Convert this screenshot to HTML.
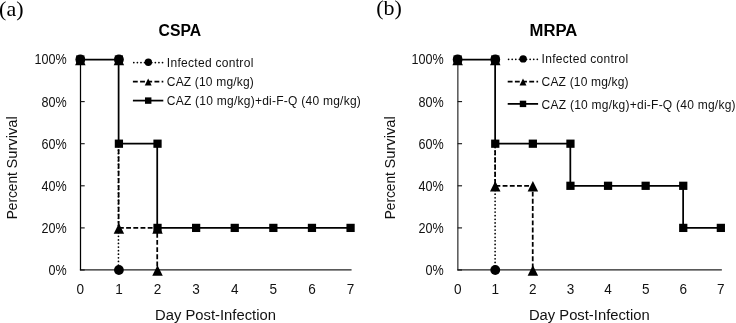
<!DOCTYPE html>
<html><head><meta charset="utf-8"><title>chart</title>
<style>
html,body{margin:0;padding:0;background:#fff;overflow:hidden;}
svg{display:block;font-family:"Liberation Sans",sans-serif;will-change:transform;filter:grayscale(1);}
</style></head><body>
<svg width="736" height="323" viewBox="0 0 736 323">
<rect width="736" height="323" fill="#fff"/>
<text x="-0.9" y="15.8" font-family="Liberation Serif" font-size="22" fill="#000">(a)</text>
<text x="179.8" y="36" text-anchor="middle" font-weight="bold" font-size="17.2" textLength="42.6" lengthAdjust="spacingAndGlyphs" fill="#000">CSPA</text>
<path d="M79.89999999999999 269.9 H351.57" fill="none" stroke="#222" stroke-width="1.15"/>
<path d="M80.5 59.5 V270.3" fill="none" stroke="#000" stroke-width="1.25"/>
<path d="M80.3 270.0 h4.4" stroke="#111" stroke-width="1.1"/>
<text transform="translate(66.6 274.90) scale(0.875 1)" text-anchor="end" font-size="14.4" fill="#111">0%</text>
<path d="M80.3 227.9 h4.4" stroke="#111" stroke-width="1.1"/>
<text transform="translate(66.6 232.80) scale(0.875 1)" text-anchor="end" font-size="14.4" fill="#111">20%</text>
<path d="M80.3 185.8 h4.4" stroke="#111" stroke-width="1.1"/>
<text transform="translate(66.6 190.70) scale(0.875 1)" text-anchor="end" font-size="14.4" fill="#111">40%</text>
<path d="M80.3 143.7 h4.4" stroke="#111" stroke-width="1.1"/>
<text transform="translate(66.6 148.60) scale(0.875 1)" text-anchor="end" font-size="14.4" fill="#111">60%</text>
<path d="M80.3 101.6 h4.4" stroke="#111" stroke-width="1.1"/>
<text transform="translate(66.6 106.50) scale(0.875 1)" text-anchor="end" font-size="14.4" fill="#111">80%</text>
<path d="M80.3 59.5 h4.4" stroke="#111" stroke-width="1.1"/>
<text transform="translate(66.6 64.40) scale(0.875 1)" text-anchor="end" font-size="14.4" fill="#111">100%</text>
<text transform="translate(80.30 294.3) scale(0.95 1)" text-anchor="middle" font-size="14.3" fill="#111">0</text>
<text transform="translate(118.91 294.3) scale(0.95 1)" text-anchor="middle" font-size="14.3" fill="#111">1</text>
<text transform="translate(157.52 294.3) scale(0.95 1)" text-anchor="middle" font-size="14.3" fill="#111">2</text>
<text transform="translate(196.13 294.3) scale(0.95 1)" text-anchor="middle" font-size="14.3" fill="#111">3</text>
<text transform="translate(234.74 294.3) scale(0.95 1)" text-anchor="middle" font-size="14.3" fill="#111">4</text>
<text transform="translate(273.35 294.3) scale(0.95 1)" text-anchor="middle" font-size="14.3" fill="#111">5</text>
<text transform="translate(311.96 294.3) scale(0.95 1)" text-anchor="middle" font-size="14.3" fill="#111">6</text>
<text transform="translate(350.57 294.3) scale(0.95 1)" text-anchor="middle" font-size="14.3" fill="#111">7</text>
<text x="215.5" y="319.6" text-anchor="middle" font-size="15.3" textLength="120.8" lengthAdjust="spacingAndGlyphs" fill="#111">Day Post-Infection</text>
<text transform="translate(17.4 219.3) rotate(-90)" font-size="15.3" textLength="47.1" lengthAdjust="spacingAndGlyphs" fill="#111">Percent</text>
<text transform="translate(17.4 168.5) rotate(-90)" font-size="15.3" textLength="52.2" lengthAdjust="spacingAndGlyphs" fill="#111">Survival</text>
<path d="M118.45 143.70 L118.45 270.00" fill="none" stroke="#000" stroke-width="1.75" stroke-linecap="round" stroke-dasharray="0 3.59" stroke-dashoffset="0.750"/>
<circle cx="80.3" cy="59.5" r="4.9" fill="#000"/>
<circle cx="118.91" cy="59.5" r="4.9" fill="#000"/>
<circle cx="118.91" cy="270.0" r="4.9" fill="#000"/>
<path d="M118.61 143.70 L118.61 227.90 L157.22 227.90 L157.22 270.00" fill="none" stroke="#000" stroke-width="1.75" stroke-dasharray="4.85 2.34" stroke-dashoffset="1.730"/>
<path d="M80.3 54.75 L85.55 65.25 H75.05 Z" fill="#000"/>
<path d="M118.91 54.75 L124.16 65.25 H113.66 Z" fill="#000"/>
<path d="M118.91 223.15 L124.16 233.65 H113.66 Z" fill="#000"/>
<path d="M157.51999999999998 223.15 L162.76999999999998 233.65 H152.26999999999998 Z" fill="#000"/>
<path d="M157.51999999999998 265.25 L162.76999999999998 275.75 H152.26999999999998 Z" fill="#000"/>
<path d="M80.00 59.50 L118.61 59.50 L118.61 143.70 L157.22 143.70 L157.22 227.90 L195.83 227.90 L234.44 227.90 L273.05 227.90 L311.66 227.90 L350.27 227.90" fill="none" stroke="#000" stroke-width="1.75"/>
<rect x="76.17999999999999" y="55.38" width="8.24" height="8.24" fill="#000"/>
<rect x="114.78999999999999" y="55.38" width="8.24" height="8.24" fill="#000"/>
<rect x="114.78999999999999" y="139.57999999999998" width="8.24" height="8.24" fill="#000"/>
<rect x="153.39999999999998" y="139.57999999999998" width="8.24" height="8.24" fill="#000"/>
<rect x="153.39999999999998" y="223.78" width="8.24" height="8.24" fill="#000"/>
<rect x="192.01" y="223.78" width="8.24" height="8.24" fill="#000"/>
<rect x="230.62" y="223.78" width="8.24" height="8.24" fill="#000"/>
<rect x="269.23" y="223.78" width="8.24" height="8.24" fill="#000"/>
<rect x="307.84" y="223.78" width="8.24" height="8.24" fill="#000"/>
<rect x="346.45" y="223.78" width="8.24" height="8.24" fill="#000"/>
<path d="M133.8 62.6 h29.5" stroke="#000" stroke-width="1.75" stroke-linecap="round" stroke-dasharray="0 3.59"/>
<circle cx="148.35000000000002" cy="62.2" r="3.6995000000000005" fill="#000"/>
<text x="166.8" y="66.7" font-size="12" textLength="86.5" fill="#111">Infected control</text>
<path d="M132.9 81.6 h30.4" stroke="#000" stroke-width="1.75" stroke-dasharray="4.85 2.34"/>
<path d="M148.20000000000002 78.46499999999999 L151.66500000000002 85.395 H144.735 Z" fill="#000"/>
<text x="166.8" y="86.1" font-size="12" textLength="87" fill="#111">CAZ (10 mg/kg)</text>
<path d="M132.9 100.6 h30.4" stroke="#000" stroke-width="1.75"/>
<rect x="144.9864" y="97.3864" width="6.4272" height="6.4272" fill="#000"/>
<text x="166.8" y="105.3" font-size="12" textLength="194" fill="#111">CAZ (10 mg/kg)+di-F-Q (40 mg/kg)</text>
<text x="376.2" y="15.3" font-family="Liberation Serif" font-size="22" fill="#000">(b)</text>
<text x="553.5" y="36" text-anchor="middle" font-weight="bold" font-size="17.2" textLength="47.8" lengthAdjust="spacingAndGlyphs" fill="#000">MRPA</text>
<path d="M457.25 269.9 H721.8499999999999" fill="none" stroke="#222" stroke-width="1.15"/>
<path d="M457.84999999999997 59.5 V270.3" fill="none" stroke="#333" stroke-width="1.25"/>
<path d="M457.65 270.0 h4.4" stroke="#111" stroke-width="1.1"/>
<text transform="translate(443.8 274.90) scale(0.875 1)" text-anchor="end" font-size="14.4" fill="#111">0%</text>
<path d="M457.65 227.9 h4.4" stroke="#111" stroke-width="1.1"/>
<text transform="translate(443.8 232.80) scale(0.875 1)" text-anchor="end" font-size="14.4" fill="#111">20%</text>
<path d="M457.65 185.8 h4.4" stroke="#111" stroke-width="1.1"/>
<text transform="translate(443.8 190.70) scale(0.875 1)" text-anchor="end" font-size="14.4" fill="#111">40%</text>
<path d="M457.65 143.7 h4.4" stroke="#111" stroke-width="1.1"/>
<text transform="translate(443.8 148.60) scale(0.875 1)" text-anchor="end" font-size="14.4" fill="#111">60%</text>
<path d="M457.65 101.6 h4.4" stroke="#111" stroke-width="1.1"/>
<text transform="translate(443.8 106.50) scale(0.875 1)" text-anchor="end" font-size="14.4" fill="#111">80%</text>
<path d="M457.65 59.5 h4.4" stroke="#111" stroke-width="1.1"/>
<text transform="translate(443.8 64.40) scale(0.875 1)" text-anchor="end" font-size="14.4" fill="#111">100%</text>
<text transform="translate(457.65 294.3) scale(0.95 1)" text-anchor="middle" font-size="14.3" fill="#111">0</text>
<text transform="translate(495.25 294.3) scale(0.95 1)" text-anchor="middle" font-size="14.3" fill="#111">1</text>
<text transform="translate(532.85 294.3) scale(0.95 1)" text-anchor="middle" font-size="14.3" fill="#111">2</text>
<text transform="translate(570.45 294.3) scale(0.95 1)" text-anchor="middle" font-size="14.3" fill="#111">3</text>
<text transform="translate(608.05 294.3) scale(0.95 1)" text-anchor="middle" font-size="14.3" fill="#111">4</text>
<text transform="translate(645.65 294.3) scale(0.95 1)" text-anchor="middle" font-size="14.3" fill="#111">5</text>
<text transform="translate(683.25 294.3) scale(0.95 1)" text-anchor="middle" font-size="14.3" fill="#111">6</text>
<text transform="translate(720.85 294.3) scale(0.95 1)" text-anchor="middle" font-size="14.3" fill="#111">7</text>
<text x="589.3" y="319.6" text-anchor="middle" font-size="15.3" textLength="120.8" lengthAdjust="spacingAndGlyphs" fill="#111">Day Post-Infection</text>
<text transform="translate(394.59999999999997 219.3) rotate(-90)" font-size="15.3" textLength="47.1" lengthAdjust="spacingAndGlyphs" fill="#111">Percent</text>
<text transform="translate(394.59999999999997 168.5) rotate(-90)" font-size="15.3" textLength="52.2" lengthAdjust="spacingAndGlyphs" fill="#111">Survival</text>
<path d="M495.10 143.70 L495.10 270.00" fill="none" stroke="#000" stroke-width="1.75" stroke-linecap="round" stroke-dasharray="0 3.59" stroke-dashoffset="3.380"/>
<circle cx="457.65" cy="59.5" r="4.9" fill="#000"/>
<circle cx="495.25" cy="59.5" r="4.9" fill="#000"/>
<circle cx="495.25" cy="270.0" r="4.9" fill="#000"/>
<path d="M495.13 143.70 L495.13 185.80 L532.73 185.80 L532.73 270.00" fill="none" stroke="#000" stroke-width="1.75" stroke-dasharray="4.85 2.34" stroke-dashoffset="0.720"/>
<path d="M457.65 54.75 L462.9 65.25 H452.4 Z" fill="#000"/>
<path d="M495.25 54.75 L500.5 65.25 H490.0 Z" fill="#000"/>
<path d="M495.25 181.05 L500.5 191.55 H490.0 Z" fill="#000"/>
<path d="M532.85 181.05 L538.1 191.55 H527.6 Z" fill="#000"/>
<path d="M532.85 265.25 L538.1 275.75 H527.6 Z" fill="#000"/>
<path d="M457.53 59.50 L495.13 59.50 L495.13 143.70 L532.73 143.70 L570.33 143.70 L570.33 185.80 L607.93 185.80 L645.53 185.80 L683.13 185.80 L683.13 227.90 L720.73 227.90" fill="none" stroke="#000" stroke-width="1.75"/>
<rect x="453.53" y="55.38" width="8.24" height="8.24" fill="#000"/>
<rect x="491.13" y="55.38" width="8.24" height="8.24" fill="#000"/>
<rect x="491.13" y="139.57999999999998" width="8.24" height="8.24" fill="#000"/>
<rect x="528.73" y="139.57999999999998" width="8.24" height="8.24" fill="#000"/>
<rect x="566.33" y="139.57999999999998" width="8.24" height="8.24" fill="#000"/>
<rect x="566.33" y="181.68" width="8.24" height="8.24" fill="#000"/>
<rect x="603.93" y="181.68" width="8.24" height="8.24" fill="#000"/>
<rect x="641.53" y="181.68" width="8.24" height="8.24" fill="#000"/>
<rect x="679.13" y="181.68" width="8.24" height="8.24" fill="#000"/>
<rect x="679.13" y="223.78" width="8.24" height="8.24" fill="#000"/>
<rect x="716.7299999999999" y="223.78" width="8.24" height="8.24" fill="#000"/>
<path d="M508.59999999999997 59.3 h29.5" stroke="#000" stroke-width="1.75" stroke-linecap="round" stroke-dasharray="0 3.59"/>
<circle cx="523.15" cy="58.9" r="3.6995000000000005" fill="#000"/>
<text x="541.6" y="63.4" font-size="12" textLength="86.5" fill="#111">Infected control</text>
<path d="M507.7 81.6 h30.4" stroke="#000" stroke-width="1.75" stroke-dasharray="4.85 2.34"/>
<path d="M523.0 78.46499999999999 L526.465 85.395 H519.535 Z" fill="#000"/>
<text x="541.6" y="86.1" font-size="12" textLength="87" fill="#111">CAZ (10 mg/kg)</text>
<path d="M507.7 103.9 h30.4" stroke="#000" stroke-width="1.75"/>
<rect x="519.7864" y="100.6864" width="6.4272" height="6.4272" fill="#000"/>
<text x="541.6" y="108.60000000000001" font-size="12" textLength="194" fill="#111">CAZ (10 mg/kg)+di-F-Q (40 mg/kg)</text>
</svg>
</body></html>
